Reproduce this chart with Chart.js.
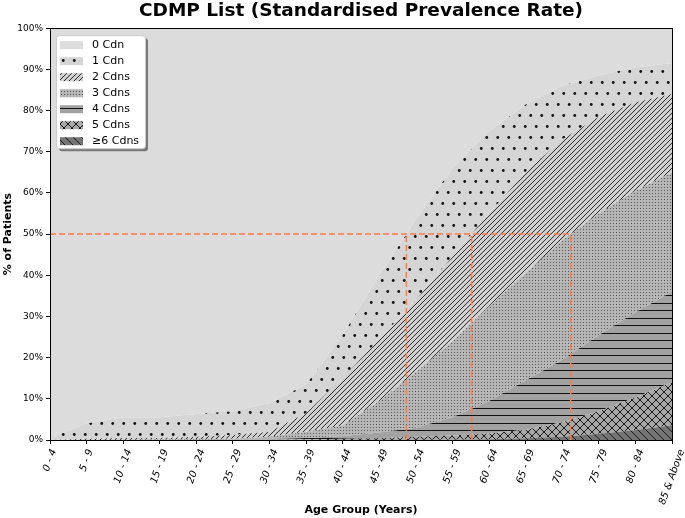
<!DOCTYPE html>
<html>
<head>
<meta charset="utf-8">
<script src="https://cdn.jsdelivr.net/npm/chart.js@4.4.1/dist/chart.umd.min.js"></script>
<style>
  html, body { margin: 0; padding: 0; background: #fff; }
</style>
</head>
<body>
<canvas id="cdmpChart" width="685" height="518"></canvas>
<script>
const ageGroups = ["0 - 4", "5 - 9", "10 - 14", "15 - 19", "20 - 24", "25 - 29", "30 - 34", "35 - 39", "40 - 44",
  "45 - 49", "50 - 54", "55 - 59", "60 - 64", "65 - 69", "70 - 74", "75 - 79", "80 - 84", "85 & Above"];

// % of patients per number of conditions
const cdn0 = [99.5, 96, 94.5, 94.5, 93.7, 93, 91, 86.5, 74.5, 60, 46.5, 34, 25, 18.5, 14, 11.5, 9.5, 8.5];
const cdn1 = [0.5, 3.7, 5, 5, 5.5, 5.8, 7, 7, 10.5, 15.5, 19.5, 21.5, 20, 16.5, 13, 10, 8.5, 7.5];
const cdn2 = [0, 0.3, 0.5, 0.4, 0.6, 0.9, 1.2, 4.5, 11.5, 15, 17.5, 20.5, 22.5, 24.5, 24.5, 23.5, 21.5, 19];
const cdn3 = [0, 0, 0, 0.1, 0.2, 0.2, 0.6, 1.5, 2.5, 7.7, 13.5, 18.5, 23, 26, 29, 29.5, 29.5, 29];
const cdn4 = [0, 0, 0, 0, 0, 0.1, 0.2, 0.4, 0.7, 1.3, 2.2, 4.4, 7.9, 12, 15.2, 18.5, 20.7, 22];
const cdn5 = [0, 0, 0, 0, 0, 0, 0, 0.1, 0.3, 0.5, 0.8, 1, 1.4, 2.1, 3.5, 5.5, 7.9, 10.4];
const cdn6 = [0, 0, 0, 0, 0, 0, 0, 0, 0, 0, 0, 0.1, 0.2, 0.4, 0.8, 1.5, 2.4, 3.6];

const seriesNames = ["≥6 Cdns", "5 Cdns", "4 Cdns", "3 Cdns", "2 Cdns", "1 Cdn", "0 Cdn"];
const yTicks = [0, 10, 20, 30, 40, 50, 60, 70, 80, 90, 100];
const refLevel = 50;

Chart.defaults.font.family = "'DejaVu Sans', sans-serif";
Chart.defaults.color = "#000";

// hatch fills
function hatch(bg, w, h, draw) {
  const c = document.createElement("canvas");
  c.width = w; c.height = h;
  const g = c.getContext("2d");
  g.fillStyle = bg;
  g.fillRect(0, 0, w, h);
  g.strokeStyle = "#1a1a1a";
  g.fillStyle = "#111";
  g.lineWidth = 1;
  if (draw) draw(g, w, h);
  return g.createPattern(c, "repeat");
}
function diag(g, s, up) {
  g.beginPath();
  for (let k = -1; k <= 1; k++) {
    if (up) { g.moveTo(k * s - 1, s + 1); g.lineTo(k * s + s + 1, -1); }
    else { g.moveTo(k * s - 1, -1); g.lineTo(k * s + s + 1, s + 1); }
  }
  g.stroke();
}

const fills = [
  hatch("#747474", 8, 8, (g, s) => diag(g, s, false)),
  hatch("#a8a8a8", 8, 8, (g, s) => { diag(g, s, true); diag(g, s, false); }),
  hatch("#a2a2a2", 8, 15, (g) => { g.fillRect(0, 3, 8, 1); g.fillRect(0, 10, 8, 1); }),
  hatch("#b6b6b6", 3, 3, (g) => { g.fillStyle = "#555"; g.fillRect(1, 1, 1, 1); }),
  hatch("#d0d0d0", 5, 5, (g, s) => { g.lineWidth = 0.9; diag(g, s, true); }),
  hatch("#d5d5d5", 11, 22, (g) => {
    [[2.75, 5.5], [8.25, 16.5]].forEach(([x, y]) => { g.beginPath(); g.arc(x, y, 1.4, 0, Math.PI * 2); g.fill(); });
  }),
  "#dcdcdc"
];

const layers = [cdn6, cdn5, cdn4, cdn3, cdn2, cdn1, cdn0];
let running = ageGroups.map(() => 0);
const stacked = layers.map(arr => (running = running.map((v, i) => v + arr[i])));

// position (in category units) where a cumulative curve reaches the reference level
function crossing(cum) {
  for (let i = 1; i < cum.length; i++) {
    if (cum[i] >= refLevel) return i - 1 + (refLevel - cum[i - 1]) / (cum[i] - cum[i - 1]);
  }
  return cum.length - 1;
}
const crossPts = [stacked[5], stacked[4], stacked[3]].map(crossing);

const areaSets = stacked.map((cum, i) => ({
  label: seriesNames[i],
  data: cum,
  backgroundColor: fills[i],
  borderWidth: 0,
  pointRadius: 0,
  tension: 0,
  fill: i === 0 ? "origin" : "-1"
}));

const refStyle = { borderColor: "#ff7a45", borderWidth: 1.5, borderDash: [6, 3], pointRadius: 0, fill: false, xAxisID: "xl", order: -1 };
const refSets = [
  { label: "ref", data: [{ x: 0, y: refLevel }, { x: Math.max(...crossPts), y: refLevel }], ...refStyle }
].concat(crossPts.map(c => ({ label: "ref", data: [{ x: c, y: 0 }, { x: c, y: refLevel }], ...refStyle })));

// frame round the plot, legend inside it, x labels centred under their ticks
const frameAndLegend = {
  id: "frameAndLegend",
  afterDraw(chart) {
    const ctx = chart.ctx;
    const a = chart.chartArea;
    ctx.save();
    ctx.strokeStyle = "#000";
    ctx.lineWidth = 1;
    ctx.strokeRect(Math.round(a.left) + 0.5, Math.round(a.top) + 0.5, Math.round(a.right - a.left), Math.round(a.bottom - a.top));

    const bx = a.left + 6, by = a.top + 7, bw = 89, bh = 113;
    ctx.fillStyle = "rgba(0,0,0,0.45)";
    ctx.beginPath(); ctx.roundRect(bx + 3, by + 3, bw, bh, 3); ctx.fill();
    ctx.fillStyle = "#fff";
    ctx.strokeStyle = "#cccccc";
    ctx.beginPath(); ctx.roundRect(bx + 0.5, by + 0.5, bw, bh, 3); ctx.fill(); ctx.stroke();

    ctx.font = "11px 'DejaVu Sans'";
    ctx.textBaseline = "middle";
    for (let r = 0; r < seriesNames.length; r++) {
      const i = seriesNames.length - 1 - r;
      const cy = by + 10 + r * 16;
      ctx.fillStyle = fills[i];
      ctx.fillRect(bx + 4, cy - 4, 23, 8);
      ctx.fillStyle = "#000";
      ctx.fillText(seriesNames[i], bx + 36, cy);
    }

    const sx = chart.scales.x;
    const ang = 70 * Math.PI / 180;
    ctx.font = "italic 10px 'DejaVu Sans'";
    ctx.textAlign = "center";
    ageGroups.forEach((lab, i) => {
      const w = ctx.measureText(lab).width;
      const boxH = w * Math.sin(ang) + 10 * Math.cos(ang);
      ctx.save();
      ctx.translate(sx.getPixelForTick(i), sx.top + 8 + boxH / 2);
      ctx.rotate(-ang);
      ctx.fillText(lab, 0, 0);
      ctx.restore();
    });
    ctx.restore();
  }
};

new Chart(document.getElementById("cdmpChart"), {
  type: "line",
  data: { labels: ageGroups, datasets: areaSets.concat(refSets) },
  options: {
    responsive: false,
    animation: false,
    layout: { padding: { left: 2, right: 13, top: 0, bottom: 1 } },
    plugins: {
      legend: { display: false },
      tooltip: { enabled: false },
      title: {
        display: true,
        fullSize: false,
        text: "CDMP List (Standardised Prevalence Rate)",
        font: { size: 18.5, weight: "bold" },
        padding: { top: 0, bottom: 6 }
      }
    },
    scales: {
      x: {
        type: "category",
        offset: false,
        afterFit: s => { s.height = 77; },
        grid: { drawOnChartArea: false, color: "#000", tickLength: 4 },
        border: { color: "#000" },
        ticks: { display: false, autoSkip: false },
        title: { display: true, text: "Age Group (Years)", font: { size: 11, weight: "bold" }, padding: { top: 2, bottom: 0 } }
      },
      xl: { type: "linear", min: 0, max: ageGroups.length - 1, display: false },
      y: {
        min: yTicks[0],
        max: yTicks[yTicks.length - 1],
        afterFit: s => { s.width = 48; },
        afterBuildTicks: s => { s.ticks = yTicks.map(v => ({ value: v })); },
        grid: { drawOnChartArea: false, color: "#000", tickLength: 4 },
        border: { color: "#000" },
        ticks: { font: { size: 9 }, padding: 3, callback: v => v + "%" },
        title: { display: true, text: "% of Patients", font: { size: 11, weight: "bold" }, padding: { top: 0, bottom: 2 } }
      }
    }
  },
  plugins: [frameAndLegend]
});
</script>
</body>
</html>
